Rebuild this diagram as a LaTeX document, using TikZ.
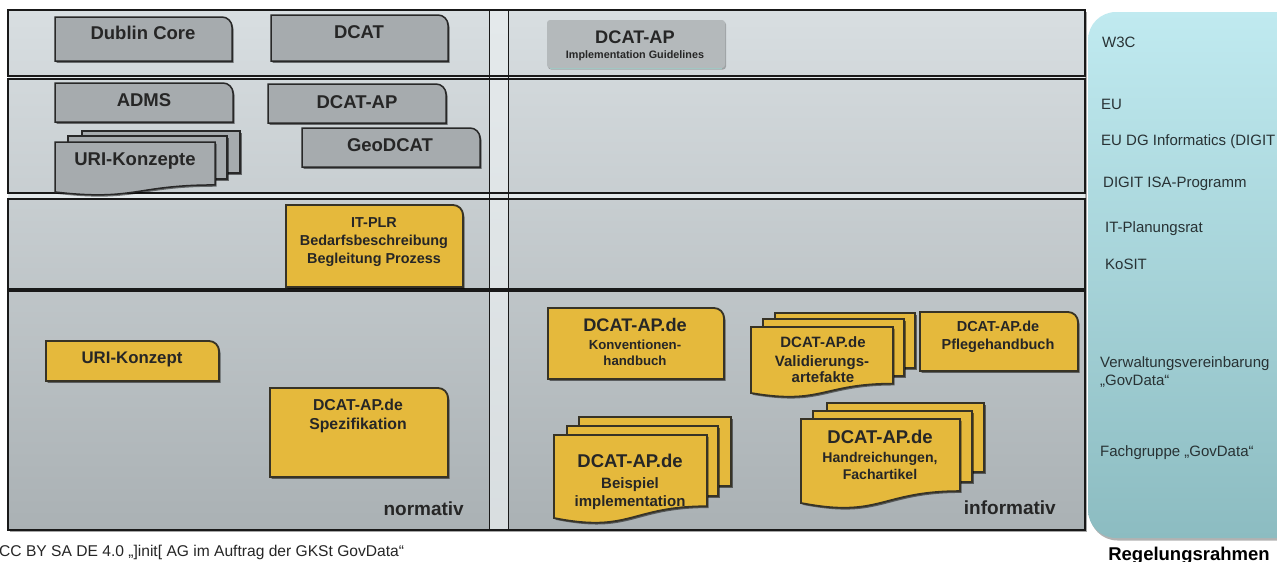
\documentclass[tikz,border=0pt]{standalone}
\usepackage{fontspec}
\setmainfont{Liberation Sans}
\usetikzlibrary{shadows}
\definecolor{ink}{RGB}{38,38,38}
\definecolor{bgtop}{RGB}{216,222,225}
\definecolor{bgbot}{RGB}{170,177,180}
\definecolor{bgstrip}{RGB}{228,233,235}
\definecolor{gfill}{RGB}{166,171,174}
\definecolor{gline}{RGB}{40,40,40}
\definecolor{igfill}{RGB}{180,185,187}
\definecolor{igline}{RGB}{160,200,196}
\definecolor{yfill}{RGB}{229,185,60}
\definecolor{yline}{RGB}{55,51,38}
\definecolor{ptop}{RGB}{192,234,240}
\definecolor{pbot}{RGB}{140,188,193}
\definecolor{ptext}{RGB}{40,50,52}
\newcommand\fsz[1]{\fontsize{#1}{#1}\selectfont}
% style, x1, y1, x2, y2 : rectangle with rounded top-right corner
\newcommand\snip[5]{\path[#1] (#2,#5) -- (#2,#3) [rounded corners=10pt] -- (#4,#3) [sharp corners] -- (#4,#5) -- cycle;}
% style, x1, y1, x2, ybottom-left : document shape with wavy bottom
\newcommand\docshape[5]{%
  \pgfmathsetmacro\dsh{(#5-#3)/0.934}%
  \pgfmathsetmacro\dsyr{#3+0.802*\dsh}%
  \pgfmathsetmacro\dsyc{#3+1.107*\dsh}%
  \pgfmathsetmacro\dsxm{(#2+#4)/2}%
  \path[#1] (#2,#3) -- (#4,#3) -- (#4,\dsyr) .. controls (\dsxm,\dsyr) and (\dsxm,\dsyc) .. (#2,#5) -- cycle;}
\tikzset{
  boxshadow/.style={drop shadow={shadow xshift=1.5pt, shadow yshift=-1.8pt, opacity=0.5, fill=black}},
  graybox/.style={fill=gfill, draw=gline, line width=1.5pt, boxshadow},
  yelbox/.style={fill=yfill, draw=yline, line width=1.8pt, boxshadow},
  igbox/.style={fill=igfill, rounded corners=3pt, drop shadow={shadow xshift=1pt, shadow yshift=-1.5pt, opacity=0.25, fill=black}},
  rowline/.style={draw=black!90, line width=1.1pt},
  lbl/.style={anchor=base, inner sep=0pt, text=ink, font=\bfseries\fsz{#1}},
  side/.style={anchor=base west, inner sep=0pt, text=ptext, font=\fsz{15}},
}
\begin{document}
\begin{tikzpicture}[x=1pt,y=-1pt]
\useasboundingbox (0,0) rectangle (1277,562);
\fill[white] (0,0) rectangle (1277,562);

% right panel
\path[top color=ptop, bottom color=pbot, rounded corners=28pt,
      drop shadow={shadow xshift=1.5pt, shadow yshift=-2.5pt, opacity=0.3, fill=black}]
  (1088,12) rectangle (1330,538);

% matrix background
\path[fill=bgstrip, drop shadow={shadow xshift=1.5pt, shadow yshift=-2pt, opacity=0.35, fill=black}] (8,10) rectangle (1085,530);
\path[top color=bgtop, bottom color=bgtop!87!bgbot] (8,10) rectangle (1085,76);
\path[top color=bgtop!86!bgbot, bottom color=bgtop!65!bgbot] (8,79) rectangle (1085,193);
\path[top color=bgtop!63!bgbot, bottom color=bgtop!46!bgbot] (8,199) rectangle (1085,289);
\path[top color=bgtop!45!bgbot, bottom color=bgbot] (8,291) rectangle (1085,530);
\path[top color=bgstrip, bottom color=bgstrip!80!bgbot] (489,10) rectangle (508,530);
\path[rowline] (8,10) rectangle (1085,76);
\path[rowline] (8,79) rectangle (1085,193);
\path[rowline] (8,199) rectangle (1085,289);
\path[rowline] (8,291) rectangle (1085,530);
\draw[black!90, line width=0.9pt] (489,10) -- (489,530);
\draw[black!90, line width=0.9pt] (508,10) -- (508,530);

% gray boxes
\snip{graybox}{55}{17}{232}{61}
\snip{graybox}{271}{15}{448}{61}
\snip{graybox}{55}{83}{233}{122}
\snip{graybox}{268}{84}{446}{123}
\snip{graybox}{302}{128}{480}{167}
\path[graybox] (82,131) rectangle (240,173);
\path[graybox] (68,136) rectangle (227,179);
\docshape{graybox}{55}{142}{215}{192}

% DCAT-AP implementation guidelines
\path[igbox] (547,20) rectangle (725,68);
\draw[igline, line width=1pt] (550,68) -- (722,68);

% yellow boxes
\snip{yelbox}{286}{205}{463}{287}
\snip{yelbox}{46}{341}{219}{381}
\snip{yelbox}{270}{388}{448}{477}
\snip{yelbox}{548}{308}{724}{379}
\snip{yelbox}{920}{312}{1078}{371}
\path[yelbox] (775,313) rectangle (915,368);
\path[yelbox] (763,319) rectangle (904,376);
\docshape{yelbox}{751}{327}{893}{393}
\path[yelbox] (579,417) rectangle (731,486);
\path[yelbox] (567,426) rectangle (718,496);
\docshape{yelbox}{554}{435}{707}{518}
\path[yelbox] (827,403) rectangle (984,472);
\path[yelbox] (813,411) rectangle (972,482);
\docshape{yelbox}{801}{419}{960}{503}

% labels: gray
\node[lbl=18.5] (dublin) at (143,39.7) {Dublin Core};
\node[lbl=18.5] (dcat) at (359,38.7) {DCAT};
\node[lbl=18.5] (adms) at (144,106.7) {ADMS};
\node[lbl=18.5] (dcatap) at (357,108.7) {DCAT-AP};
\node[lbl=18.5] (geodcat) at (390,151.7) {GeoDCAT};
\node[lbl=18.5] (urik) at (135,165.7) {URI-Konzepte};
\node[lbl=18.2] (ig1) at (635,43.5) {DCAT-AP};
\node[lbl=10.8] (ig2) at (635,58.9) {Implementation Guidelines};

% labels: yellow
\node[lbl=14.4] (plr1) at (374,227.2) {IT-PLR};
\node[lbl=14.4] (plr2) at (374,245.2) {Bedarfsbeschreibung};
\node[lbl=14.4] (plr3) at (374,263.2) {Begleitung Prozess};
\node[lbl=16.8] (urik2) at (132,363) {URI-Konzept};
\node[lbl=15.8] (spez1) at (358,410.7) {DCAT-AP.de};
\node[lbl=15.8] (spez2) at (358,429.7) {Spezifikation};
\node[lbl=19, anchor=base east] (norm) at (464,515.8) {normativ};

\node[lbl=18.2] (kon1) at (635,331.5) {DCAT-AP.de};
\node[lbl=13.2] (kon2) at (635,349.8) {Konventionen-};
\node[lbl=13.2] (kon3) at (635,365.8) {handbuch};
\node[lbl=15] (val1) at (823,347.4) {DCAT-AP.de};
\node[lbl=15] (val2) at (822,366.4) {Validierungs-};
\node[lbl=15] (val3) at (823,382.4) {artefakte};
\node[lbl=14.5] (pfl1) at (998,331.2) {DCAT-AP.de};
\node[lbl=14.5] (pfl2) at (998,349.2) {Pflegehandbuch};
\node[lbl=18.5] (bsp1) at (630,467.7) {DCAT-AP.de};
\node[lbl=15] (bsp2) at (630,488.4) {Beispiel};
\node[lbl=15] (bsp3) at (630,506.4) {implementation};
\node[lbl=18.5] (hr1) at (880,443.7) {DCAT-AP.de};
\node[lbl=14.1] (hr2) at (880,462.1) {Handreichungen,};
\node[lbl=14.1] (hr3) at (880,479.1) {Fachartikel};
\node[lbl=19, anchor=base east] (info) at (1056,514.8) {informativ};

% side panel texts
\node[side] (w3c) at (1102,47.2) {W3C};
\node[side] (eu) at (1101,109.2) {EU};
\node[side] (eudg) at (1101,145.2) {EU DG Informatics (DIGIT};
\node[side] (isa) at (1103,187.2) {DIGIT ISA-Programm};
\node[side] (itpr) at (1105,232.2) {IT-Planungsrat};
\node[side] (kosit) at (1105,269.2) {KoSIT};
\node[side] (vv1) at (1100,367.2) {Verwaltungsvereinbarung};
\node[side] (vv2) at (1100,385.2) {„GovData“};
\node[side] (fg) at (1100,456.2) {Fachgruppe „GovData“};
\node[lbl=18.5, text=black] (regel) at (1189,560.2) {Regelungsrahmen};
\node[side, text=black!85, font=\fsz{15.6}] (cap) at (-1,556) {CC BY SA DE 4.0 „]init[ AG im Auftrag der GKSt GovData“};
\end{tikzpicture}
\end{document}
